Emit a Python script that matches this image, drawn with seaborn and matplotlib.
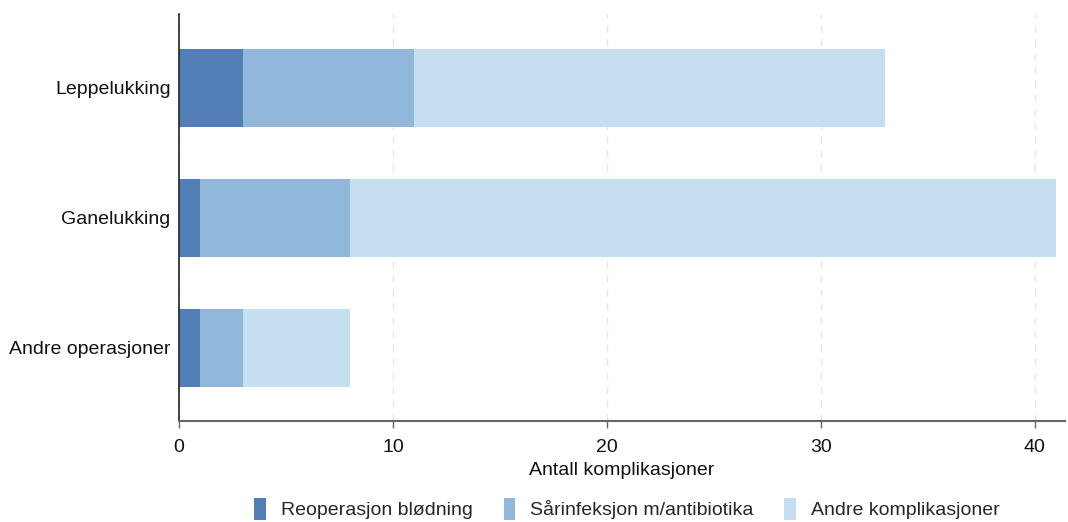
import numpy as np
import pandas as pd
import matplotlib
matplotlib.use("Agg")
import matplotlib.pyplot as plt
import seaborn as sns
from matplotlib.patches import Rectangle

operasjoner = ["Leppelukking", "Ganelukking", "Andre operasjoner"]
reoperasjon = [3, 1, 1]
sarinfeksjon = [8, 7, 2]
andre_kompl = [22, 33, 5]

serier = ["Reoperasjon blødning", "Sårinfeksjon m/antibiotika", "Andre komplikasjoner"]
farger = ["#527db5", "#91b7db", "#c5dff0"]

sns.set_theme(style="white")
plt.rcParams["font.family"] = ["Liberation Sans", "DejaVu Sans"]

fig = plt.figure(figsize=(10.68, 5.22), dpi=100)
ax = fig.add_axes([0.1676, 0.1935, 0.8294, 0.7795])

verdier = np.array([reoperasjon, sarinfeksjon, andre_kompl], dtype=float)
kum = np.cumsum(verdier, axis=0)

# Draw cumulative totals from the largest down so each segment shows on top
for i in reversed(range(len(serier))):
    df = pd.DataFrame({"operasjon": operasjoner, "verdi": kum[i]})
    sns.barplot(data=df, x="verdi", y="operasjon", orient="h", color=farger[i],
                width=0.6, saturation=1, ax=ax, zorder=2,
                edgecolor="none", linewidth=0)

ax.set_xlim(0, 41.4)
ax.set_ylim(2.565, -0.565)
ax.set_xticks([0, 10, 20, 30, 40])
ax.xaxis.grid(True, linestyle=(0, (5, 5)), color="#e6e6e6", linewidth=1, zorder=0)
ax.yaxis.grid(False)
ax.set_axisbelow(True)

for s in ["top", "right"]:
    ax.spines[s].set_visible(False)
ax.spines["left"].set_color("#222222")
ax.spines["left"].set_linewidth(1.2)
ax.spines["bottom"].set_color("#666666")
ax.spines["bottom"].set_linewidth(1.5)

ax.tick_params(axis="x", bottom=True, length=5, width=1, color="#666666",
               labelsize=14, pad=8, labelcolor="#111111")
ax.tick_params(axis="y", left=False, length=0, labelsize=14, pad=6,
               labelcolor="#111111")
ax.set_ylabel("")
ax.set_xlabel("Antall komplikasjoner", fontsize=14, color="#111111", labelpad=4)

handles = [Rectangle((0, 0), 1, 1, facecolor=c, edgecolor="none") for c in farger]
fig.legend(handles, serier, loc="center", bbox_to_anchor=(0.587, 0.025),
           ncol=3, frameon=False, fontsize=14, handlelength=0.6, handleheight=1.4,
           handletextpad=0.75, columnspacing=1.6)

fig.savefig("out.png", dpi=100)
